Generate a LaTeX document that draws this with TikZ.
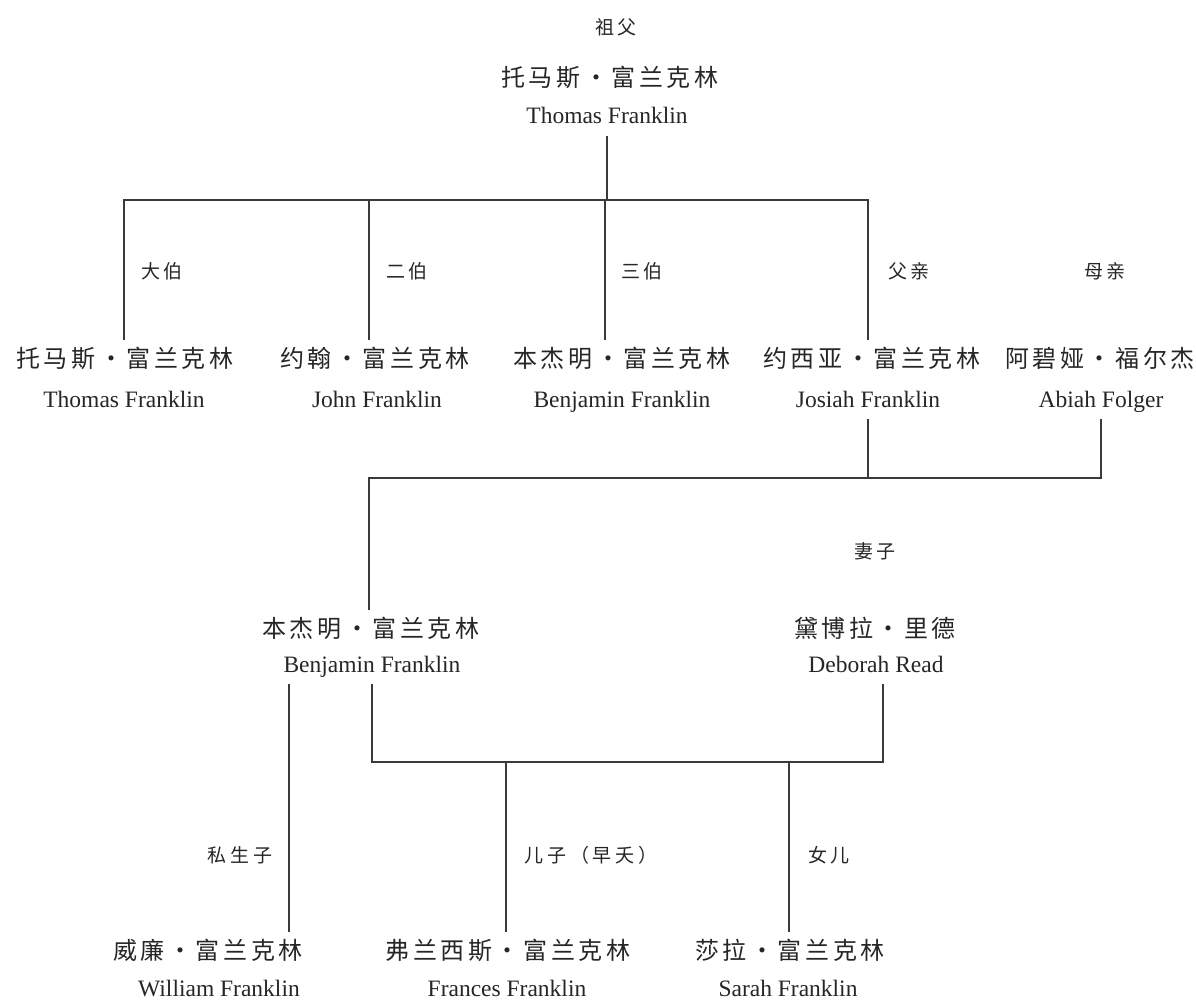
\documentclass[tikz,border=0pt]{standalone}
\usepackage{fontspec}
\setmainfont{Liberation Serif}
\newfontfamily\cjkname[LetterSpace=15]{Noto Sans CJK SC}
\newfontfamily\cjklab[LetterSpace=20]{Noto Sans CJK SC}
\newcommand\mydot{\hspace{0.15em}·\hspace{0.15em}}
\definecolor{ink}{HTML}{262626}
\definecolor{ln}{HTML}{3A3A3A}
\tikzset{
  cn/.style={font=\cjkname\fontsize{24}{28}\selectfont, text=ink, anchor=base,
    inner xsep=0pt, inner ysep=6pt, text height=20.5pt, text depth=3.5pt},
  en/.style={font=\fontsize{23.5}{28}\selectfont, text=ink, anchor=base,
    inner xsep=0pt, inner ysep=7pt, text height=16pt, text depth=5pt},
  lab/.style={font=\cjklab\fontsize{19}{22}\selectfont, text=ink, anchor=base, inner sep=0pt},
  link/.style={draw=ln, line width=1.8pt, line join=miter}
}
\begin{document}
\begin{tikzpicture}[x=1pt,y=-1pt]
\useasboundingbox (0,0) rectangle (1196,1000);
\fill[white] (0,0) rectangle (1196,1000);

% top
\node[lab] (lzf) at (616,35) {祖父};
\node[cn] (topcn) at (610,87) {托马斯\mydot 富兰克林};
\node[en] (topen) at (607,124) {Thomas Franklin};

% row 1
\node[lab] (l1) at (162,278) {大伯};
\node[lab] (l2) at (407,278) {二伯};
\node[lab] (l3) at (642,278) {三伯};
\node[lab] (l4) at (909,278) {父亲};
\node[lab] (l5) at (1105,278) {母亲};

\node[cn] (tomcn) at (125,367) {托马斯\mydot 富兰克林};
\node[en] (tomen) at (124,407) {Thomas Franklin};
\node[cn] (johncn) at (375,367) {约翰\mydot 富兰克林};
\node[en] (johnen) at (377,407) {John Franklin};
\node[cn] (ben1cn) at (622,367) {本杰明\mydot 富兰克林};
\node[en] (ben1en) at (622,407) {Benjamin Franklin};
\node[cn] (joscn) at (872,367) {约西亚\mydot 富兰克林};
\node[en] (josen) at (868,407) {Josiah Franklin};
\node[cn] (abicn) at (1100,367) {阿碧娅\mydot 福尔杰};
\node[en] (abien) at (1101,407) {Abiah Folger};

% row 2
\node[lab] (lwife) at (875,558) {妻子};
\node[cn] (ben2cn) at (371,637) {本杰明\mydot 富兰克林};
\node[en] (ben2en) at (372,672) {Benjamin Franklin};
\node[cn] (debcn) at (875,637) {黛博拉\mydot 里德};
\node[en] (deben) at (876,672) {Deborah Read};

% row 3
\node[lab] (l6) at (240,862) {私生子};
\node[lab] (l7) at (591,862) {儿子（早夭）};
\node[lab] (l8) at (829,862) {女儿};
\node[cn] (wilcn) at (208,959) {威廉\mydot 富兰克林};
\node[en] (wilen) at (219,996) {William Franklin};
\node[cn] (frcn) at (508,959) {弗兰西斯\mydot 富兰克林};
\node[en] (fren) at (507,996) {Frances Franklin};
\node[cn] (sacn) at (790,959) {莎拉\mydot 富兰克林};
\node[en] (saen) at (788,996) {Sarah Franklin};

% junctions
\coordinate (j0) at (607,200);
\coordinate (b1) at (124,200);
\coordinate (b2) at (369,200);
\coordinate (b3) at (605,200);
\coordinate (b4) at (868,200);
\coordinate (m1) at (369,478);
\coordinate (m2L) at (372,762);
\coordinate (m2R) at (883,762);
\coordinate (c1) at (506,762);
\coordinate (c2) at (789,762);
\coordinate (wx) at (289,700);

% connectors
\draw[link] (topen.south) -- (j0);
\draw[link] (b1 |- tomcn.north) -- (b1) -- (b4) -- (b4 |- joscn.north);
\draw[link] (b2) -- (b2 |- johncn.north);
\draw[link] (b3) -- (b3 |- ben1cn.north);
\draw[link] (josen.south) -- (josen.south |- m1);
\draw[link] (m1 |- ben2cn.north) -- (m1) -- (abien.south |- m1) -- (abien.south);
\draw[link] (ben2en.south) -- (m2L) -- (m2R) -- (m2R |- deben.south);
\draw[link] (wx |- ben2en.south) -- (wx |- wilcn.north);
\draw[link] (c1) -- (c1 |- frcn.north);
\draw[link] (c2) -- (c2 |- sacn.north);
\end{tikzpicture}
\end{document}
